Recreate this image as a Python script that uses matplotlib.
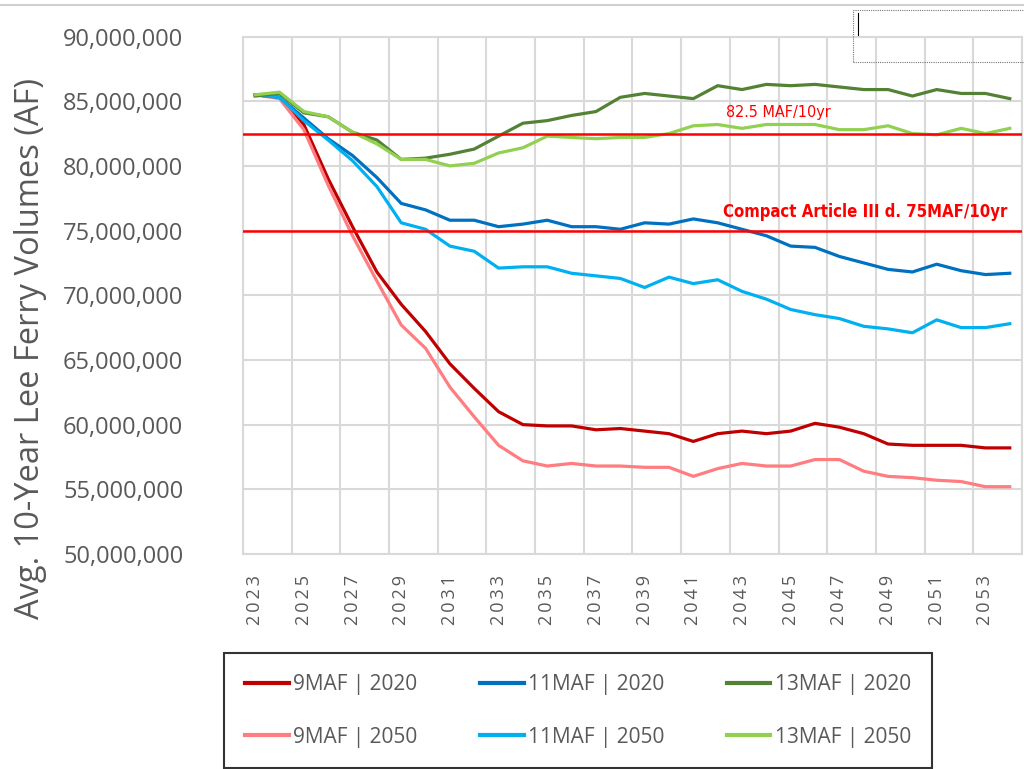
import matplotlib.pyplot as plt
import matplotlib.ticker as mticker
from matplotlib.lines import Line2D
from matplotlib.patches import Rectangle
import numpy as np

years = list(range(2023, 2055))

# 10-year average volumes, millions of acre-feet
maf9_2020 = [85.5, 85.3, 83.2, 79.0, 75.3, 71.8, 69.3, 67.2, 64.7, 62.8, 61.0, 60.0,
             59.9, 59.9, 59.6, 59.7, 59.5, 59.3, 58.7, 59.3, 59.5, 59.3, 59.5, 60.1,
             59.8, 59.3, 58.5, 58.4, 58.4, 58.4, 58.2, 58.2]
maf9_2050 = [85.5, 85.2, 82.8, 78.5, 74.6, 71.1, 67.7, 65.9, 62.9, 60.6, 58.4, 57.2,
             56.8, 57.0, 56.8, 56.8, 56.7, 56.7, 56.0, 56.6, 57.0, 56.8, 56.8, 57.3,
             57.3, 56.4, 56.0, 55.9, 55.7, 55.6, 55.2, 55.2]
maf11_2020 = [85.5, 85.3, 83.7, 82.1, 80.8, 79.1, 77.1, 76.6, 75.8, 75.8, 75.3, 75.5,
              75.8, 75.3, 75.3, 75.1, 75.6, 75.5, 75.9, 75.6, 75.1, 74.6, 73.8, 73.7,
              73.0, 72.5, 72.0, 71.8, 72.4, 71.9, 71.6, 71.7]
maf11_2050 = [85.5, 85.3, 83.5, 82.0, 80.4, 78.4, 75.6, 75.1, 73.8, 73.4, 72.1, 72.2,
              72.2, 71.7, 71.5, 71.3, 70.6, 71.4, 70.9, 71.2, 70.3, 69.7, 68.9, 68.5,
              68.2, 67.6, 67.4, 67.1, 68.1, 67.5, 67.5, 67.8]
maf13_2020 = [85.4, 85.6, 84.1, 83.8, 82.6, 82.0, 80.5, 80.6, 80.9, 81.3, 82.3, 83.3,
              83.5, 83.9, 84.2, 85.3, 85.6, 85.4, 85.2, 86.2, 85.9, 86.3, 86.2, 86.3,
              86.1, 85.9, 85.9, 85.4, 85.9, 85.6, 85.6, 85.2]
maf13_2050 = [85.5, 85.7, 84.2, 83.8, 82.6, 81.7, 80.5, 80.5, 80.0, 80.2, 81.0, 81.4,
              82.3, 82.2, 82.1, 82.2, 82.2, 82.5, 83.1, 83.2, 82.9, 83.2, 83.2, 83.2,
              82.8, 82.8, 83.1, 82.5, 82.4, 82.9, 82.5, 82.9]

series = [
    ("9MAF | 2020", maf9_2020, "#c00000"),
    ("9MAF | 2050", maf9_2050, "#ff7c80"),
    ("11MAF | 2020", maf11_2020, "#0070c0"),
    ("11MAF | 2050", maf11_2050, "#00b0f0"),
    ("13MAF | 2020", maf13_2020, "#548235"),
    ("13MAF | 2050", maf13_2050, "#92d050"),
]

ref_lines = [82.5e6, 75e6]
grey = "#595959"
font = ["Open Sans", "DejaVu Sans"]

fig = plt.figure(figsize=(10.24, 7.69), dpi=100)
ax = fig.add_axes([0.2373, 0.2796, 0.7607, 0.6729])

x = np.arange(len(years))
handles = []
for label, vals, col in series:
    h, = ax.plot(x, np.array(vals) * 1e6, color=col, lw=2.3, label=label,
                 solid_joinstyle="round", zorder=3)
    handles.append(h)

for r in ref_lines:
    ax.axhline(r, color="#ff0000", lw=1.8, zorder=4)

ax.text(21.5, 84.15e6, "82.5 MAF/10yr", color="#ff0000", fontsize=11.5,
        family="DejaVu Sans", fontstretch="condensed", ha="center", va="center")
ax.text(30.9, 76.4e6, "Compact Article III d. 75MAF/10yr", color="#ff0000",
        fontsize=12, fontweight="bold", family="DejaVu Sans",
        fontstretch="condensed", ha="right", va="center")

ax.set_xlim(-0.5, len(years) - 0.5)
ax.set_ylim(50e6, 90e6)
ax.yaxis.set_major_locator(mticker.MultipleLocator(5e6))
ax.yaxis.set_major_formatter(mticker.FuncFormatter(lambda v, p: f"{v:,.0f}"))

ax.set_xticks(x[::2])
ax.set_xticklabels(["\u2009".join(str(y)) for y in years[::2]], rotation=90,
                   family=font, fontsize=13, color=grey)
ax.set_xticks(np.arange(-0.5, len(years), 2), minor=True)
ax.tick_params(axis="x", which="both", length=0, pad=15)
ax.tick_params(axis="y", which="both", length=0, pad=43, labelsize=17,
               labelcolor=grey)
for t in ax.get_yticklabels():
    t.set_family(font)

ax.grid(True, which="minor", axis="x", color="#d9d9d9", lw=1.5)
ax.grid(True, which="major", axis="y", color="#d9d9d9", lw=1.5)
ax.set_axisbelow(True)
for s in ax.spines.values():
    s.set_color("#d9d9d9")
    s.set_linewidth(1.5)

ax.set_ylabel("Avg. 10-Year Lee Ferry Volumes (AF)", fontsize=23.5, color=grey,
              family=font)
ax.yaxis.set_label_coords(-0.252, 0.398)

leg = fig.legend(handles=handles, loc="center", ncol=3,
                 bbox_to_anchor=(0.5645, 0.0755), frameon=True, fancybox=False,
                 prop={"family": font, "size": 15}, handlelength=2.1,
                 handletextpad=0.2, columnspacing=3.0, labelspacing=1.5,
                 borderpad=1.0, borderaxespad=0, labelcolor=grey)
leg.get_frame().set_edgecolor("black")
leg.get_frame().set_linewidth(1.5)
for lh in leg.get_lines():
    lh.set_linewidth(3)

# stray selection box and border from the original screenshot
fig.add_artist(Rectangle((853 / 1024, 1 - 62 / 769), 175 / 1024, 52 / 769,
                         transform=fig.transFigure, fill=False, ec="#777777",
                         lw=0.8, ls=(0, (1, 1))))
fig.add_artist(Line2D([858 / 1024, 858 / 1024], [1 - 13 / 769, 1 - 35 / 769],
                      transform=fig.transFigure, color="black", lw=0.8))
fig.add_artist(Line2D([0, 1], [1 - 5 / 769, 1 - 5 / 769],
                      transform=fig.transFigure, color="#d0d0d0", lw=1.5))

fig.savefig("out.png", dpi=100)
